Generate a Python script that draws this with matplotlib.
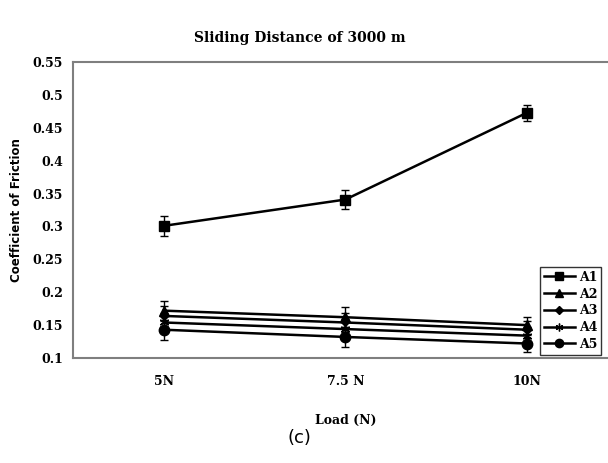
import matplotlib
matplotlib.use("Agg")
import matplotlib.pyplot as plt
import numpy as np

loads = ["5N", "7.5 N", "10N"]
series_names = ["A1", "A2", "A3", "A4", "A5"]
a1 = [0.301, 0.341, 0.473]
a2 = [0.172, 0.162, 0.150]
a3 = [0.164, 0.154, 0.143]
a4 = [0.154, 0.144, 0.134]
a5 = [0.143, 0.132, 0.122]
a1_err = [0.015, 0.015, 0.012]
low_err = [0.015, 0.015, 0.013]

markers = ["s", "^", "D", (6, 2, 0), "o"]
msizes = [7.5, 6.5, 4.5, 7, 7.5]

serif = {"family": "DejaVu Serif", "weight": "bold"}

fig = plt.figure(figsize=(6.08, 4.63), dpi=100)
ax = fig.add_axes([0.120, 0.2268, 0.896, 0.639])

x = np.arange(len(loads))
all_vals = [a1, a2, a3, a4, a5]
all_err = [a1_err, low_err, low_err, low_err, low_err]
for name, vals, err, mk, ms in zip(series_names, all_vals, all_err, markers, msizes):
    ax.errorbar(x, vals, yerr=err, fmt="none", ecolor="black", capsize=3,
                elinewidth=1.0, capthick=1.0)
    ax.plot(x, vals, color="black", lw=1.8, marker=mk, ms=ms,
            mec="black", mfc="black", label=name)

ax.set_xlim(-0.5, 2.5)
ax.set_ylim(0.1, 0.55)
ax.set_yticks(np.arange(0.1, 0.551, 0.05))
ax.set_yticklabels(["0.1", "0.15", "0.2", "0.25", "0.3", "0.35", "0.4",
                    "0.45", "0.5", "0.55"])
ax.set_xticks(x)
ax.set_xticklabels(loads)
ax.tick_params(length=0)
ax.tick_params(axis="y", pad=7)
ax.tick_params(axis="x", pad=12)
for lab in ax.get_xticklabels() + ax.get_yticklabels():
    lab.set_fontfamily(serif["family"])
    lab.set_fontweight("bold")
    lab.set_fontsize(9)
for sp in ax.spines.values():
    sp.set_color("#7f7f7f")
    sp.set_linewidth(1.5)

ax.set_xlabel("Load (N)", fontfamily=serif["family"], fontweight="bold",
              fontsize=9, labelpad=19)
ax.set_ylabel("Coefficient of Friction", fontfamily="DejaVu Sans",
              fontweight="bold", fontsize=8.5, labelpad=7)

fig.text(0.493, 0.918, "Sliding Distance of 3000 m", ha="center", va="center",
         fontfamily=serif["family"], fontweight="bold", fontsize=10)
fig.text(0.493, 0.053, "(c)", ha="center", va="center",
         fontfamily="DejaVu Sans", fontsize=13)

leg = ax.legend(loc="upper left", bbox_to_anchor=(540 / 608, 1 - 267 / 463),
                bbox_transform=fig.transFigure, frameon=True, fancybox=False,
                handlelength=2.5, handletextpad=0.3, labelspacing=0.3,
                borderaxespad=0, borderpad=0.3, markerscale=0.8,
                prop={"family": serif["family"], "weight": "bold", "size": 9})
leg.get_frame().set_edgecolor("black")
leg.get_frame().set_linewidth(1.0)

fig.savefig("out.png", dpi=100)
